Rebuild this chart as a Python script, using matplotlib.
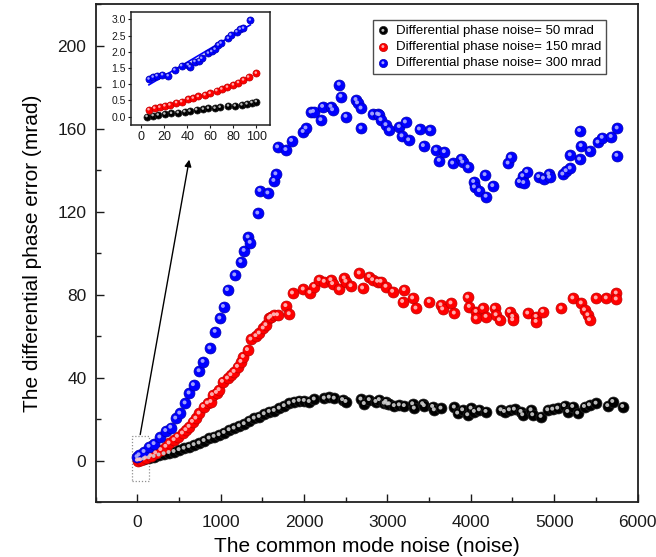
import matplotlib
matplotlib.use("Agg")
import matplotlib.pyplot as plt
from matplotlib import transforms
from matplotlib.legend_handler import HandlerTuple
from matplotlib.patches import Rectangle
from matplotlib.ticker import MultipleLocator

plt.rcParams['font.family'] = ['Liberation Sans', 'DejaVu Sans']

# ---- main data: common mode noise vs differential phase error (mrad) ----
x_50 = [24, 84, 144, 204, 264, 324, 384, 444, 504, 564, 624, 684, 744, 804, 864, 924,
        984, 1044, 1104, 1164, 1225, 1285, 1345, 1405, 1465, 1525, 1585, 1645, 1705,
        1765, 1825, 1885, 1945, 2005, 2065, 2125, 2245, 2305, 2365, 2465, 2505, 2685,
        2725, 2785, 2865, 2905, 2965, 2985, 3005, 3025, 3085, 3145, 3205, 3305, 3325,
        3425, 3445, 3545, 3565, 3645, 3805, 3845, 3905, 3965, 4005, 4045, 4105, 4185,
        4365, 4405, 4465, 4525, 4605, 4625, 4725, 4745, 4845, 4925, 4985, 5045, 5125,
        5165, 5225, 5285, 5365, 5425, 5505, 5645, 5705, 5825]
y_50 = [0.2, 0.6, 1.2, 1.8, 2.5, 3.1, 3.7, 4.2, 5.1, 5.8, 6.6, 7.5, 8.3, 9.5, 10.7, 11.5,
        12.3, 13.4, 14.7, 15.5, 16.6, 17.6, 19.2, 20.3, 21.1, 22.4, 23.5, 24.0, 25.1,
        26.3, 27.5, 28.3, 28.8, 28.8, 28.3, 29.5, 29.9, 30.4, 29.9, 29.2, 28.3, 29.5,
        27.3, 29.2, 28.3, 29.2, 27.5, 28.3, 27.1, 27.2, 26.3, 26.7, 26.3, 27.2, 25.1,
        27.2, 26.3, 25.9, 24.3, 25.1, 25.6, 22.7, 24.3, 21.9, 25.1, 23.5, 24.3, 23.5,
        24.3, 23.5, 24.3, 24.6, 23.5, 21.9, 24.3, 21.9, 21.1, 24.3, 24.6, 25.1, 26.3,
        23.5, 25.9, 22.7, 25.9, 26.7, 27.5, 26.3, 28.3, 25.9]

x_150 = [4, 44, 104, 164, 224, 285, 345, 384, 444, 484, 544, 585, 624, 664, 705, 744,
         796, 844, 885, 904, 952, 984, 1024, 1084, 1125, 1164, 1204, 1245, 1273, 1324,
         1365, 1425, 1465, 1513, 1545, 1585, 1605, 1645, 1684, 1785, 1825, 1864, 1993,
         2073, 2125, 2185, 2245, 2325, 2345, 2425, 2485, 2505, 2565, 2665, 2705, 2785,
         2825, 2885, 2925, 2985, 3065, 3185, 3205, 3305, 3345, 3505, 3645, 3665, 3765,
         3805, 3965, 3985, 4066, 4066, 4145, 4186, 4286, 4306, 4346, 4466, 4505, 4505,
         4685, 4786, 4786, 4866, 5086, 5226, 5327, 5366, 5406, 5426, 5507, 5627, 5747,
         5747]
y_150 = [0.0, 0.2, 1.1, 2.2, 3.5, 5.1, 6.7, 8.3, 9.9, 11.5, 13.1, 14.7, 16.3, 18.7,
         20.3, 22.7, 25.9, 27.6, 28.3, 31.6, 32.7, 34.0, 38.0, 39.6, 41.2, 42.8, 45.2,
         47.6, 50.0, 53.3, 58.4, 60.0, 61.3, 63.7, 65.3, 68.5, 69.3, 70.1, 70.1, 74.5,
         70.6, 80.6, 82.5, 80.9, 83.8, 87.0, 86.2, 87.0, 85.1, 82.5, 87.8, 86.2, 84.1,
         90.2, 83.0, 88.6, 87.0, 86.2, 86.2, 83.8, 81.4, 76.5, 82.2, 78.2, 73.3, 76.5,
         74.9, 72.9, 75.8, 70.9, 78.6, 74.1, 71.7, 68.5, 73.3, 69.3, 73.3, 70.1, 67.7,
         71.7, 69.3, 67.7, 70.9, 69.3, 66.9, 71.7, 73.3, 78.2, 75.8, 72.5, 70.1, 67.7,
         78.2, 78.2, 80.6, 77.7]

x_300 = [0, 24, 84, 144, 204, 273, 344, 404, 464, 512, 576, 624, 676, 744, 792, 873,
         937, 993, 1036, 1084, 1172, 1245, 1284, 1332, 1357, 1448, 1473, 1569, 1641,
         1665, 1685, 1785, 1853, 1992, 2026, 2086, 2116, 2205, 2225, 2325, 2345, 2425,
         2445, 2505, 2626, 2644, 2686, 2686, 2825, 2885, 2905, 2925, 2985, 3025, 3145,
         3177, 3218, 3257, 3386, 3434, 3513, 3586, 3625, 3685, 3785, 3886, 3905, 3970,
         4037, 4046, 4105, 4174, 4186, 4266, 4450, 4478, 4586, 4625, 4638, 4674, 4817,
         4874, 4937, 4946, 5106, 5146, 5195, 5195, 5307, 5307, 5326, 5426, 5527, 5578,
         5686, 5754, 5758]
y_300 = [1.7, 2.6, 4.2, 6.7, 8.0, 11.2, 14.3, 15.9, 20.3, 22.7, 27.6, 32.4, 36.4, 43.1,
         47.6, 54.1, 62.1, 68.5, 74.1, 82.2, 89.3, 95.8, 101.1, 107.6, 105.0, 119.1,
         130.0, 128.8, 134.8, 138.0, 151.0, 149.7, 154.1, 158.4, 160.1, 167.8, 168.1,
         164.1, 170.5, 170.5, 168.9, 181.2, 175.4, 165.7, 173.8, 172.2, 169.7, 160.1,
         166.8, 166.8, 166.5, 164.1, 161.7, 159.2, 160.8, 156.3, 163.0, 154.4, 159.6,
         151.6, 159.2, 149.6, 144.5, 148.7, 143.2, 145.3, 143.7, 141.3, 134.3, 131.7,
         129.9, 137.6, 127.2, 132.3, 143.2, 146.1, 134.3, 137.1, 133.8, 139.1, 136.7,
         135.9, 138.0, 136.4, 137.9, 139.5, 140.8, 147.2, 145.1, 158.9, 151.6, 149.2,
         153.3, 155.6, 156.0, 146.9, 160.1]

# ---- inset data: low-noise region (0-100) ----
xi_50 = [4.9, 10.2, 14.6, 20.4, 26.2, 32.0, 37.8, 42.2, 48.1, 53.9, 58.3, 64.1, 68.5,
         75.8, 81.6, 87.5, 91.9, 96.2, 100.0]
yi_50 = [0.0, 0.03, 0.05, 0.08, 0.10, 0.12, 0.15, 0.17, 0.21, 0.23, 0.26, 0.26, 0.29,
         0.33, 0.33, 0.36, 0.39, 0.43, 0.46]
xi_150 = [6.6, 11.6, 16.0, 20.4, 24.8, 30.6, 35.0, 40.8, 45.1, 49.5, 55.4, 59.8, 65.6,
          70.0, 74.9, 80.1, 84.5, 88.9, 93.3, 100.0]
yi_150 = [0.21, 0.26, 0.29, 0.33, 0.36, 0.43, 0.46, 0.54, 0.57, 0.62, 0.67, 0.72, 0.80,
          0.85, 0.91, 0.98, 1.05, 1.13, 1.22, 1.34]
xi_300 = [6.6, 10.2, 13.6, 18.4, 23.3, 29.1, 35.0, 40.8, 42.3, 46.6, 50.4, 52.5, 58.3,
          61.2, 64.1, 67.0, 69.3, 75.7, 77.8, 83.1, 86.0, 88.9, 94.8]
yi_300 = [1.16, 1.22, 1.26, 1.29, 1.26, 1.44, 1.57, 1.60, 1.54, 1.70, 1.73, 1.80, 1.96,
          2.01, 2.08, 2.21, 2.27, 2.42, 2.52, 2.62, 2.70, 2.73, 2.98]
fit_300_x = [6.6, 94.8]
fit_300_y = [0.98, 2.83]

labels = ["Differential phase noise= 50 mrad",
          "Differential phase noise= 150 mrad",
          "Differential phase noise= 300 mrad"]
colors = ["#000000", "#ff0000", "#0000ff"]
edges = ["#222222", "#c00000", "#0000b0"]
shines = ["#d0d0d0", "#ffc0c0", "#b0b0ff"]

fig = plt.figure(figsize=(6.56, 5.57), dpi=100)
ax = fig.add_axes([0.1456, 0.0987, 0.8262, 0.8941])


def balls(a, x, y, i, size, shine_off=1.2):
    base = a.scatter(x, y, s=size, c=colors[i], edgecolors=edges[i],
                     linewidths=0.5, zorder=3)
    tr = transforms.offset_copy(a.transData, fig=fig, x=-shine_off * 0.4,
                                y=shine_off * 0.5, units='points')
    hi = a.scatter(x, y, s=size * 0.13, c=shines[i], edgecolors='none',
                   transform=tr, zorder=4, alpha=0.9)
    return base, hi


handles = []
for i, (xs, ys) in enumerate([(x_50, y_50), (x_150, y_150), (x_300, y_300)]):
    handles.append(balls(ax, xs, ys, i, 62))

ax.set_xlim(-500, 6000)
ax.set_ylim(-20, 220)
ax.xaxis.set_major_locator(MultipleLocator(1000))
ax.xaxis.set_minor_locator(MultipleLocator(500))
ax.yaxis.set_major_locator(MultipleLocator(40))
ax.yaxis.set_minor_locator(MultipleLocator(20))
ax.tick_params(which='both', direction='in', top=False, right=False,
               labelsize=12.5, colors='#1a1a1a', width=1.0)
ax.tick_params(which='major', length=6)
ax.tick_params(which='minor', length=3.5)
ax.tick_params(axis='x', which='both', pad=9.5)
ax.tick_params(axis='y', which='both', pad=6.5)
for sp in ax.spines.values():
    sp.set_linewidth(1.3)
    sp.set_color('#202020')
ax.set_xlabel("The common mode noise (noise)", fontsize=15, labelpad=5)
ax.set_ylabel("The differential phase error (mrad)", fontsize=15, labelpad=11)

# dotted box around the origin region and arrow to the inset
ax.add_patch(Rectangle((-60, -10), 205, 22, fill=False, ls=(0, (1, 1.5)),
                       lw=0.9, ec='#909090', zorder=2))
ax.annotate("", xy=(624, 145), xytext=(36, 12.5),
            arrowprops=dict(arrowstyle='-|>', color='black', lw=1.0,
                            mutation_scale=10, shrinkA=0, shrinkB=0))

leg = ax.legend(handles, labels, handler_map={tuple: HandlerTuple(ndivide=1)},
                loc='upper left', bbox_to_anchor=(0.512, 0.968), borderaxespad=0,
                fontsize=9.5, frameon=True, fancybox=False, edgecolor='#202020',
                handlelength=0.8, handletextpad=0.6, borderpad=0.35,
                labelspacing=0.3, markerscale=0.75)
leg.get_frame().set_linewidth(1.0)

# inset
axi = fig.add_axes([0.1997, 0.7756, 0.2119, 0.2029])
axi.plot(fit_300_x, fit_300_y, color='#0000ff', lw=1.2, zorder=2)
for i, (xs, ys) in enumerate([(xi_50, yi_50), (xi_150, yi_150), (xi_300, yi_300)]):
    balls(axi, xs, ys, i, 26, shine_off=0.8)
axi.set_xlim(-9, 112)
axi.set_ylim(-0.26, 3.23)
axi.xaxis.set_major_locator(MultipleLocator(20))
axi.yaxis.set_major_locator(MultipleLocator(0.5))
axi.tick_params(axis='x', labelsize=9, length=2.5, pad=1.5, colors='#1a1a1a')
axi.tick_params(axis='y', labelsize=7.5, length=2.5, pad=1, colors='#1a1a1a')
axi.tick_params(which='both', direction='out')
for sp in axi.spines.values():
    sp.set_linewidth(1.1)
    sp.set_color('#202020')

fig.savefig("out.png", dpi=100)
